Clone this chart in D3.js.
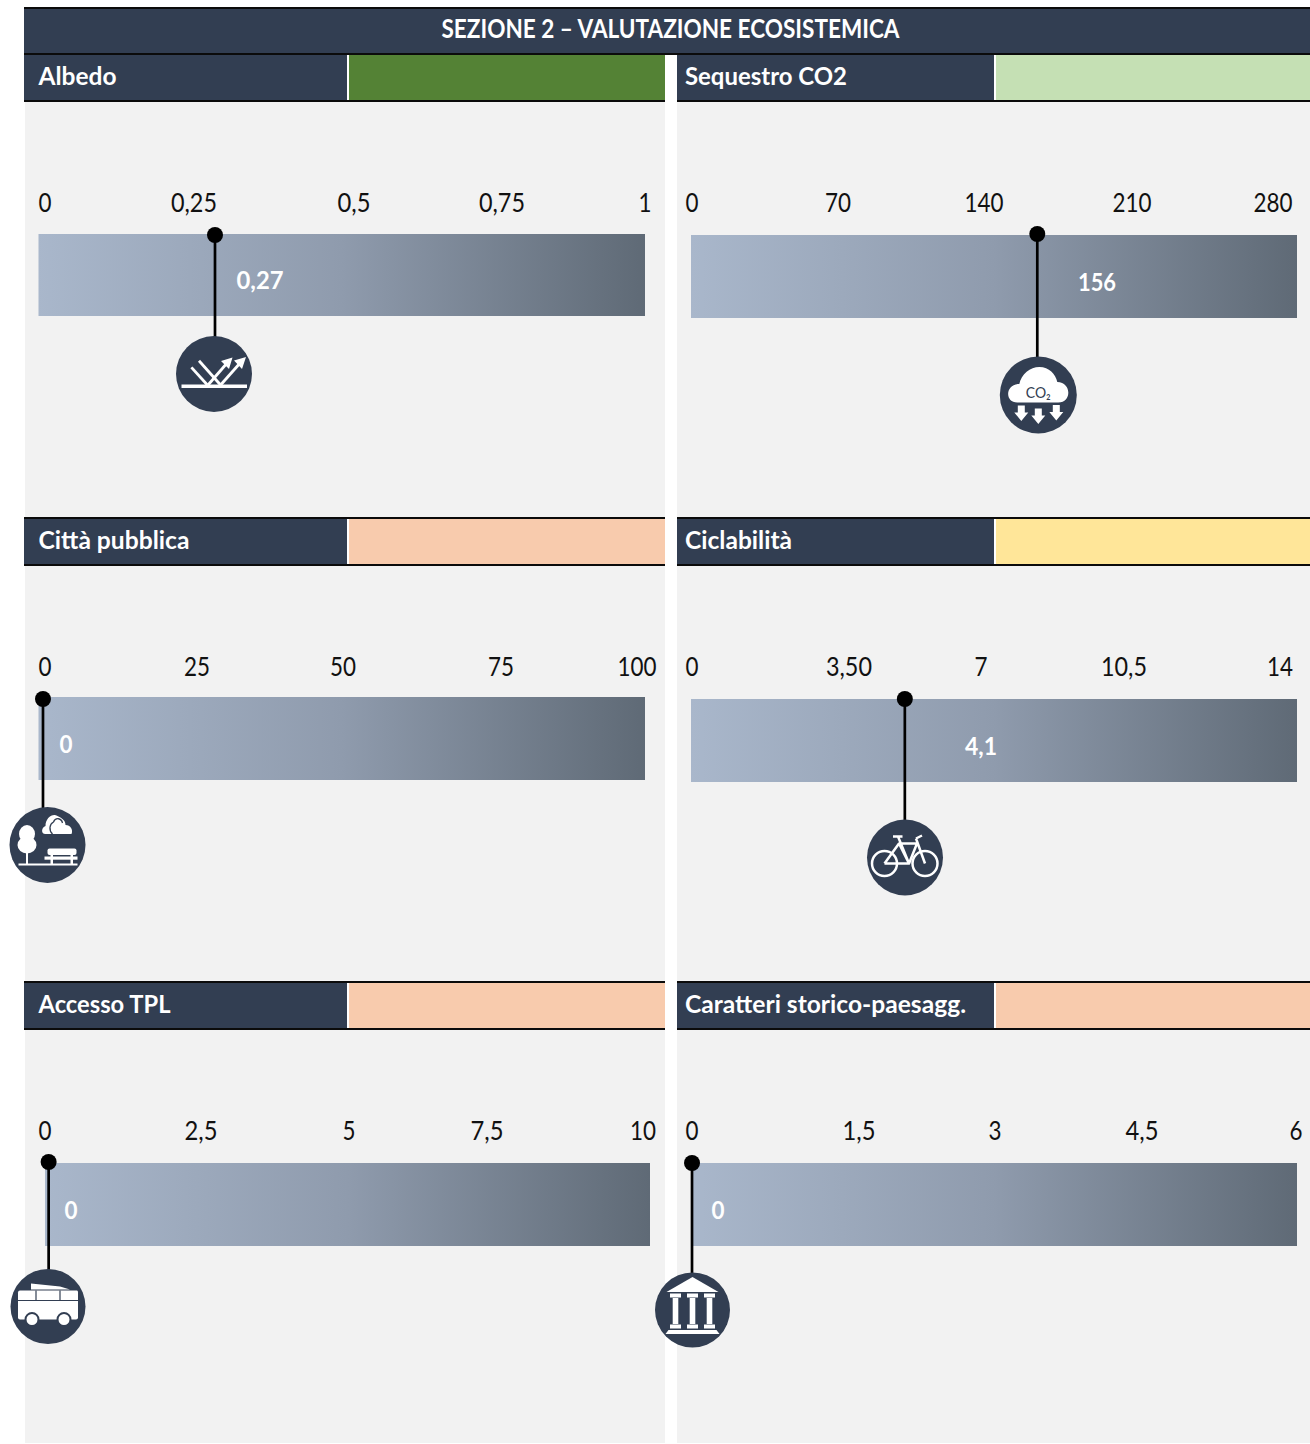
<!DOCTYPE html>
<html><head><meta charset="utf-8">
<script src="https://cdnjs.cloudflare.com/ajax/libs/d3/7.8.5/d3.min.js"></script>
<style>html,body{margin:0;padding:0;background:#fff}svg{display:block}text{font-family:Lato,"Open Sans",sans-serif}</style>
</head><body><svg id="c" width="1310" height="1444"></svg>
<script>
const title = "SEZIONE 2 – VALUTAZIONE ECOSISTEMICA";
const names = ["Albedo","Sequestro CO2","Città pubblica","Ciclabilità","Accesso TPL","Caratteri storico-paesagg."];
const domainMax = [1,280,100,14,10,6];
const tickValues = [[0,.25,.5,.75,1],[0,70,140,210,280],[0,25,50,75,100],[0,3.5,7,10.5,14],[0,2.5,5,7.5,10],[0,1.5,3,4.5,6]];
const tickLabels = [["0","0,25","0,5","0,75","1"],["0","70","140","210","280"],["0","25","50","75","100"],["0","3,50","7","10,5","14"],["0","2,5","5","7,5","10"],["0","1,5","3","4,5","6"]];
const valueLabels = ["0,27","156","0","4,1","0","0"];
const markerValues = [0.291,160,0.74,4.94,0.06,0.01];
const classColors = ["#548235","#C5E0B4","#F8CBAD","#FFE699","#F8CBAD","#F8CBAD"];
const icons = ["albedo","co2","park","bike","bus","temple"];

// layout (separate from data)
const layout = [
 {l:25,r:665,split:347.5,h:54,bx:[38.5,645],by:[234,316],tickX:[45,194,354,502,645],labX:260,labY:280,my:235,cx:214,cy:374,cr:38},
 {l:677,r:1310,split:994.5,h:54,bx:[691,1297],by:[235,318],tickX:[692,838,984,1132,1273],labX:1097,labY:282,my:234,cx:1038.3,cy:395,cr:38.5},
 {l:25,r:665,split:347.5,h:518,bx:[38.5,645],by:[697,780],tickX:[45,197,343,501,637],labX:66,labY:744,my:699,cx:47.5,cy:845,cr:38},
 {l:677,r:1310,split:994.5,h:518,bx:[691,1297],by:[699,782],tickX:[692,849,981,1124,1280],labX:981,labY:746,my:699,cx:905,cy:857.5,cr:38},
 {l:25,r:665,split:347.5,h:982,bx:[45,650],by:[1163,1246],tickX:[45,201,349,487,643],labX:71,labY:1210,my:1162,cx:48,cy:1306.5,cr:37.5},
 {l:677,r:1310,split:994.5,h:982,bx:[691,1297],by:[1163,1246],tickX:[692,859,995,1142,1296],labX:718,labY:1210,my:1163,cx:692.5,cy:1310,cr:37.5},
];
const dark="#323E52", bg="#F2F2F2";
const svg=d3.select("#c");
const defs=svg.append("defs");
const g=defs.append("linearGradient").attr("id","grad");
[[0,"#A9B7CB"],[.5,"#8F9BAD"],[1,"#5F6A76"]].forEach(s=>g.append("stop").attr("offset",s[0]).attr("stop-color",s[1]));

svg.append("rect").attr("x",25).attr("y",8).attr("width",640).attr("height",1435).attr("fill",bg);
svg.append("rect").attr("x",677).attr("y",8).attr("width",633).attr("height",1435).attr("fill",bg);
svg.append("rect").attr("x",24).attr("y",8).attr("width",1286).attr("height",46).attr("fill",dark);
[8,54].forEach(y=>svg.append("rect").attr("x",24).attr("y",y-1).attr("width",1286).attr("height",2).attr("fill","#0b0b0b"));
const fit=(t,w)=>t.attr("textLength",w).attr("lengthAdjust","spacingAndGlyphs");
fit(svg.append("text").attr("x",670.5).attr("y",37.5).attr("text-anchor","middle").attr("fill","#fff").attr("font-weight",700).attr("font-size",26).text(title),458);

const hdrW=[78,162,151,107,132,281];
const valW=[47,38,13,32,13,13];
const tickW=s=>s.replace(",","").length*13+(s.includes(",")?7:0);
const drawIcon={
 albedo(s){
  s.append("rect").attr("x",-32.5).attr("y",10.5).attr("width",65.5).attr("height",3.5).attr("fill","#fff");
  const p=s.append("g").attr("stroke","#fff").attr("stroke-width",2.8).attr("fill","none");
  [[-22.6,-6.6,-6.6,11],[-15,-13.3,6.6,11],[-6,11,14,-12],[6.6,11,27,-12]].forEach(a=>p.append("line").attr("x1",a[0]).attr("y1",a[1]).attr("x2",a[2]).attr("y2",a[3]));
  s.append("path").attr("fill","#fff").attr("d","M18.5,-16.5L7,-13L15,-5ZM32,-17L20,-13.5L28,-5Z");
 },
 co2(s){
  s.append("path").attr("fill","#fff").attr("d","M-21,7.5C-34,7.5 -33,-11 -19,-11C-17,-21 -8,-28 1,-28C11,-28 17,-21 19,-13C33,-13 34,7.5 20,7.5Z");
  s.append("text").attr("x",0).attr("y",2.5).attr("text-anchor","middle").attr("fill",dark).attr("font-size",16).attr("font-family","Roboto").attr("textLength",25).attr("lengthAdjust","spacingAndGlyphs").text("CO₂");
  [[-17,10.5],[0,13.5],[18,10]].forEach(a=>s.append("path").attr("fill","#fff").attr("transform",`translate(${a[0]},${a[1]})`).attr("d","M-3.5,0H3.5V7H7L0,15.5L-7,7H-3.5Z"));
 },
 park(s){
  s.append("rect").attr("x",-29).attr("y",18.5).attr("width",59).attr("height",2).attr("fill","#fff");
  s.append("rect").attr("x",-21.5).attr("y",5).attr("width",2).attr("height",14).attr("fill","#fff");
  s.append("ellipse").attr("cx",-20.5).attr("cy",-11).attr("rx",8).attr("ry",9).attr("fill","#fff");
  s.append("ellipse").attr("cx",-20.5).attr("cy",0).attr("rx",9.5).attr("ry",8.5).attr("fill","#fff");
  s.append("path").attr("fill","#fff").attr("d","M-2,-11C-7,-11 -6,-18 -2,-19C-2,-27 5,-32 10,-29C14,-27 18,-25 18,-20C23,-20 26,-15 24,-11Z");
  s.append("path").attr("fill","none").attr("stroke",dark).attr("stroke-width",1.3).attr("d","M5,-11C1,-15 2,-21 6,-23C8,-28 14,-27 15,-22");
  s.append("rect").attr("x",0).attr("y",3.5).attr("width",29).attr("height",6.5).attr("rx",2).attr("fill","#fff");
  s.append("rect").attr("x",-3).attr("y",11.5).attr("width",33).attr("height",3.2).attr("fill","#fff");
  [[3,9,2.5,10],[23,9,2.5,10]].forEach(a=>s.append("rect").attr("x",a[0]).attr("y",a[1]).attr("width",a[2]).attr("height",a[3]).attr("fill","#fff"));
 },
 bike(s){
  const p=s.append("g").attr("fill","none").attr("stroke","#fff").attr("stroke-width",2.5).attr("stroke-linejoin","round");
  [[-20.5,6],[20,6]].forEach(a=>p.append("circle").attr("cx",a[0]).attr("cy",a[1]).attr("r",12.5));
  p.append("path").attr("d","M-20.5,6L-6,-14L7,-14M-12,-21L-2.5,-21M-7,-21L4,6L12,-14M-6,-14L4,6L-20.5,6M7,-14L12,-14M11,-19L20,6M11,-19L17,-22");
 },
 bus(s){
  s.append("path").attr("fill","#fff").attr("d","M-17,-23L-17,-17L22,-17L12,-20Z");
  s.append("path").attr("fill","#fff").attr("d","M-28,-16H29Q30,-16 30,-14V11Q30,13 28,13H-28Q-30,13 -30,11V-14Q-30,-16 -28,-16Z");
  const p=s.append("g").attr("stroke",dark).attr("stroke-width",1.2);
  p.append("line").attr("x1",-30).attr("x2",30).attr("y1",-6).attr("y2",-6);
  p.append("line").attr("x1",-12).attr("x2",-12).attr("y1",-16).attr("y2",-6);
  p.append("line").attr("x1",12).attr("x2",12).attr("y1",-16).attr("y2",-6);
  [[-16,13],[16,13]].forEach(a=>s.append("circle").attr("cx",a[0]).attr("cy",a[1]).attr("r",6.5).attr("fill","#fff").attr("stroke",dark).attr("stroke-width",2));
 },
 temple(s){
  s.append("path").attr("fill","#fff").attr("d","M0,-33L26,-18H-26Z");
  [-17,0,17].forEach(x=>{
   s.append("rect").attr("x",x-5.5).attr("y",-16.5).attr("width",11).attr("height",4).attr("fill","#fff");
   s.append("rect").attr("x",x-2.8).attr("y",-12).attr("width",5.6).attr("height",26).attr("fill","#fff");
   s.append("rect").attr("x",x-5.5).attr("y",14.5).attr("width",11).attr("height",4).attr("fill","#fff");
  });
  s.append("path").attr("fill","#fff").attr("d","M-24,20H24L27,24H-27Z");
 }
};

names.forEach((name,i)=>{
 const L=layout[i];
 const P=svg.append("g");
 const x=d3.scaleLinear().domain([0,domainMax[i]]).range(L.bx);
 const hx=L.l===25?24:L.l;
 P.append("rect").attr("x",hx).attr("y",L.h).attr("width",L.split-hx).attr("height",47).attr("fill",dark);
 P.append("rect").attr("x",L.split+1).attr("y",L.h).attr("width",L.r-L.split-1).attr("height",47).attr("fill",classColors[i]);
 P.append("rect").attr("x",L.split-.5).attr("y",L.h).attr("width",2).attr("height",47).attr("fill","#fff");
 [L.h,L.h+47].forEach(y=>P.append("rect").attr("x",hx).attr("y",y-1).attr("width",L.r-hx).attr("height",2).attr("fill","#0b0b0b"));
 fit(P.append("text").attr("x",L.l===25?38.5:685).attr("y",L.h+30.5).attr("fill","#fff").attr("font-weight",700).attr("font-size",25.5).text(name),hdrW[i]);
 P.selectAll(".t").data(tickValues[i]).join("text").attr("class","t")
  .attr("x",(d,j)=>L.tickX[j]).attr("y",L.h+158).attr("text-anchor","middle")
  .attr("fill","#111").attr("font-size",26.5).each(function(d,j){
    const s=tickLabels[i][j]; fit(d3.select(this).text(s),tickW(s));
  });
 P.append("rect").attr("x",x(0)).attr("y",L.by[0]).attr("width",x(domainMax[i])-x(0)).attr("height",L.by[1]-L.by[0]).attr("fill","url(#grad)");
 fit(P.append("text").attr("x",L.labX).attr("y",L.labY+8.5).attr("text-anchor","middle").attr("fill","#fff").attr("font-weight",700).attr("font-size",25.5).text(valueLabels[i]),valW[i]);
 const mx=x(markerValues[i]);
 P.append("line").attr("x1",mx).attr("x2",mx).attr("y1",L.my).attr("y2",L.cy-L.cr+1).attr("stroke","#000").attr("stroke-width",2.7);
 P.append("circle").attr("cx",mx).attr("cy",L.my).attr("r",8).attr("fill","#000");
 const ic=P.append("g").attr("transform",`translate(${L.cx},${L.cy})`);
 ic.append("circle").attr("r",L.cr).attr("fill",dark);
 drawIcon[icons[i]](ic);
});
</script></body></html>
